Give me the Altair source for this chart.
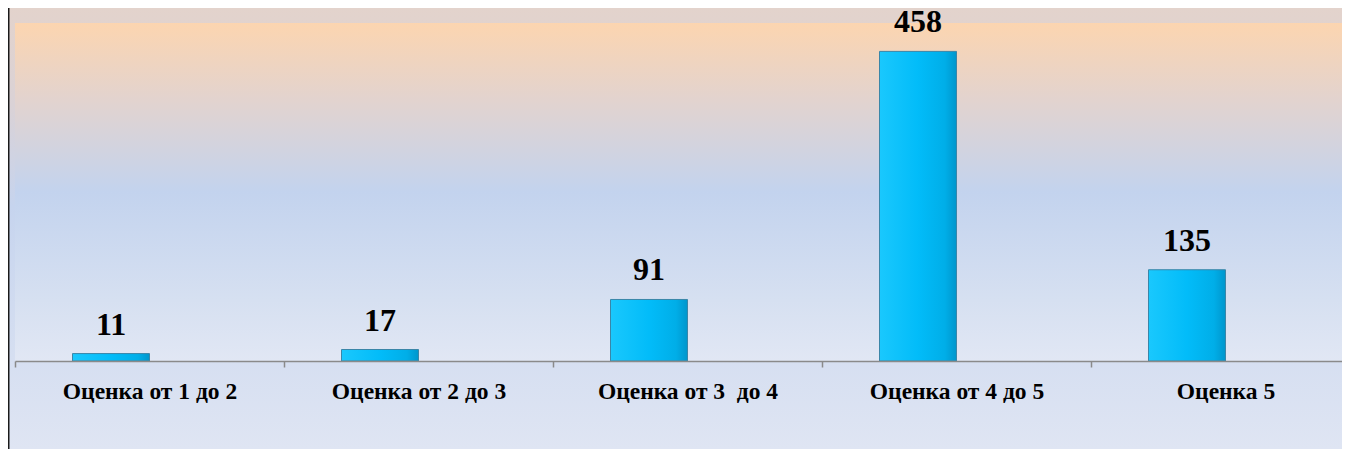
import altair as alt
import pandas as pd

categories = ["Оценка от 1 до 2", "Оценка от 2 до 3", "Оценка от 3\u00a0 до 4", "Оценка от 4 до 5", "Оценка 5"]
values = [11, 17, 91, 458, 135]

df = pd.DataFrame({"cat": categories, "val": values})

W = 1327
H = 338
PAD_L, PAD_T, PAD_B = 7, 15, 88
FONT = "Liberation Serif"

one = alt.Data(values=[{"a": 1}])

chart_bg = alt.Chart(one).mark_rect(
    fill=alt.Gradient(
        gradient="linear", x1=0, x2=0, y1=0, y2=1,
        stops=[
            alt.GradientStop(offset=0, color="#e3d3cc"),
            alt.GradientStop(offset=0.22, color="#dad2d6"),
            alt.GradientStop(offset=0.45, color="#c6d4ee"),
            alt.GradientStop(offset=0.8, color="#d6dff1"),
            alt.GradientStop(offset=1, color="#dfe5f3"),
        ],
    )
).encode(
    x=alt.value(-PAD_L), x2=alt.value(W),
    y=alt.value(-PAD_T), y2=alt.value(H + PAD_B),
)

plot_bg = alt.Chart(one).mark_rect(
    fill=alt.Gradient(
        gradient="linear", x1=0, x2=0, y1=0, y2=1,
        stops=[
            alt.GradientStop(offset=0, color="#fcd5b0"),
            alt.GradientStop(offset=0.23, color="#e2d3cf"),
            alt.GradientStop(offset=0.5, color="#c3d3ee"),
            alt.GradientStop(offset=0.82, color="#d6e0f1"),
            alt.GradientStop(offset=1, color="#e1e7f4"),
        ],
    )
).encode(
    x=alt.value(0), x2=alt.value(W),
    y=alt.value(0), y2=alt.value(H),
)

border = alt.Chart(one).mark_rule(color="#1a1a1a", strokeWidth=3).encode(
    x=alt.value(-PAD_L), y=alt.value(-PAD_T), y2=alt.value(H + PAD_B)
)

xenc = alt.X(
    "cat:N",
    sort=categories,
    scale=alt.Scale(range=[0, 1345], paddingInner=0, paddingOuter=0),
    axis=alt.Axis(
        title=None,
        labelAngle=0,
        labelFont=FONT,
        labelFontSize=23.5,
        labelFontWeight="bold",
        labelColor="#000000",
        labelPadding=12,
        labelLimit=400,
        domainColor="#8a8a8a",
        domainWidth=1.5,
        tickColor="#8a8a8a",
        tickWidth=1.5,
        tickSize=6,
        tickBand="extent",
        grid=False,
        labelOverlap=False,
        zindex=1,
    ),
)
yenc = alt.Y("val:Q", scale=alt.Scale(domain=[0, 500]), axis=None)

bars = alt.Chart(df).mark_bar(
    width=77,
    xOffset=-38.5,
    stroke="#3a86a8",
    strokeWidth=1,
    fill=alt.Gradient(
        gradient="linear", x1=0, x2=1, y1=0, y2=0,
        stops=[
            alt.GradientStop(offset=0, color="#1ac8fd"),
            alt.GradientStop(offset=0.5, color="#02bcf9"),
            alt.GradientStop(offset=0.85, color="#00aee8"),
            alt.GradientStop(offset=1, color="#0096cc"),
        ],
    ),
).encode(x=xenc, y=yenc)

labels = alt.Chart(df).mark_text(
    font=FONT, fontSize=32, fontWeight="bold", color="#000000",
    baseline="alphabetic", dy=-19, xOffset=-38.5,
).encode(x=xenc, y=yenc, text="val:Q")

chart = alt.layer(chart_bg, plot_bg, border, bars, labels).properties(
    width=W, height=H,
    autosize=alt.AutoSizeParams(type="none"),
    padding={"left": PAD_L, "top": PAD_T, "right": 0, "bottom": PAD_B},
    background="#dfe5f3",
).configure_view(stroke=None)

chart.save("out.html", embed_options={"renderer": "svg", "actions": False})
